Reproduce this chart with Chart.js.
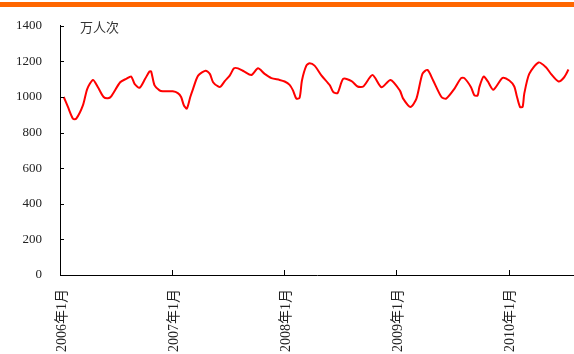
<!DOCTYPE html>
<html>
<head>
<meta charset="utf-8">
<script src="https://cdn.jsdelivr.net/npm/chart.js@4.4.1/dist/chart.umd.min.js"></script>
<style>
  html, body { margin: 0; padding: 0; background: #fff; }
  #wrap { position: relative; width: 574px; height: 354px; overflow: hidden; }
  #topbar { position: absolute; left: 0; top: 2px; width: 574px; height: 5px; background: #FF6600; }
  canvas { position: absolute; left: 0; top: 0; }
</style>
</head>
<body>
<div id="wrap">
  <canvas id="c" width="574" height="354"></canvas>
  <div id="topbar"></div>
</div>
<script>
// Time position of each reading, in months counted from January 2006
const months = [
  0.4, 0.85, 1.39, 1.74, 2.46, 2.92, 3.53, 4.06, 4.67, 5.13,
  5.48, 6.44, 7.08, 7.62, 7.98, 8.52, 9.11, 9.58, 9.75, 10.12,
  10.65, 11.0, 12.07, 12.61, 12.96, 13.25, 13.57, 13.94, 14.24, 14.78,
  15.57, 16.03, 16.38, 16.92, 17.2, 17.63, 18.16, 18.62, 19.05, 19.69,
  20.48, 21.19, 21.9, 22.62, 23.5, 24.04, 24.57, 24.93, 25.29, 25.64,
  25.89, 26.36, 26.71, 27.24, 27.99, 28.88, 29.24, 29.7, 30.31, 31.2,
  31.84, 32.45, 33.44, 34.4, 35.37, 36.36, 36.72, 37.5, 38.14, 38.78,
  39.32, 39.93, 40.82, 41.32, 42.2, 42.92, 43.27, 43.98, 44.34, 44.69,
  44.87, 45.33, 45.76, 46.37, 47.36, 48.08, 48.61, 48.86, 49.22, 49.5,
  49.68, 50.21, 51.21, 52.0, 52.53, 53.35, 53.95, 54.41
];

// Passenger volume (万人次)
const visitors = [
  1000, 944, 878, 878, 954, 1046, 1096, 1055, 1000, 993,
  1004, 1083, 1102, 1115, 1074, 1052, 1102, 1144, 1144, 1065,
  1037, 1032, 1032, 1022, 1000, 954, 935, 1000, 1046, 1120,
  1148, 1130, 1083, 1059, 1059, 1089, 1120, 1161, 1161, 1144,
  1124, 1161, 1130, 1106, 1096, 1087, 1068, 1037, 991, 996,
  1093, 1176, 1189, 1176, 1120, 1065, 1028, 1022, 1102, 1089,
  1059, 1059, 1124, 1055, 1096, 1037, 991, 944, 991, 1130,
  1152, 1093, 1000, 991, 1046, 1106, 1106, 1055, 1009, 1009,
  1055, 1115, 1089, 1041, 1107, 1093, 1059, 1009, 944, 944,
  1019, 1130, 1194, 1167, 1130, 1087, 1111, 1154
];

// Axis tick values and labels
const yearTickMonths = [0, 12, 24, 36, 48];
const yearTickLabels = ['2006年1月', '2007年1月', '2008年1月', '2009年1月', '2010年1月'];
const yTicks = [0, 200, 400, 600, 800, 1000, 1200, 1400];
const unitLabel = '万人次';

const serif = '"Liberation Serif", "Times New Roman", "Noto Sans CJK SC", serif';

// Short inward tick marks on both axes plus the unit caption
const axisMarks = {
  id: 'axisMarks',
  afterDraw(chart) {
    const { ctx, chartArea: a, scales: { x, y } } = chart;
    ctx.save();
    ctx.strokeStyle = '#000';
    ctx.lineWidth = 1;
    ctx.beginPath();
    y.ticks.forEach(t => {
      const py = Math.round(y.getPixelForValue(t.value)) + 0.5;
      ctx.moveTo(a.left, py);
      ctx.lineTo(a.left + 4, py);
    });
    x.ticks.forEach(t => {
      const px = Math.round(x.getPixelForValue(t.value)) + 0.5;
      ctx.moveTo(px, a.bottom);
      ctx.lineTo(px, a.bottom - 5);
    });
    ctx.stroke();
    ctx.fillStyle = '#333';
    ctx.font = '13px "Noto Sans CJK SC", sans-serif';
    ctx.textBaseline = 'middle';
    ctx.textAlign = 'left';
    ctx.fillText(unitLabel, a.left + 20, y.getPixelForValue(1400) + 1);
    ctx.restore();
  }
};

new Chart(document.getElementById('c'), {
  type: 'line',
  data: {
    datasets: [{
      data: months.map((m, i) => ({ x: m, y: visitors[i] })),
      borderColor: '#FF0000',
      borderWidth: 2,
      pointRadius: 0,
      fill: false,
      tension: 0.25
    }]
  },
  options: {
    responsive: false,
    animation: false,
    devicePixelRatio: 1,
    layout: { padding: { top: 23, right: 0, bottom: 0, left: 0 } },
    plugins: { legend: { display: false }, tooltip: { enabled: false } },
    scales: {
      x: {
        type: 'linear',
        min: 0,
        max: 55,
        afterBuildTicks: s => { s.ticks = yearTickMonths.map(v => ({ value: v })); },
        afterFit: s => { s.height = 79; },
        grid: { display: false, drawTicks: false },
        border: { display: true, color: '#000', width: 1 },
        ticks: {
          autoSkip: false,
          minRotation: 90,
          maxRotation: 90,
          padding: 14,
          labelOffset: 2,
          color: '#222',
          font: { family: serif, size: 14 },
          callback: v => yearTickLabels[yearTickMonths.indexOf(v)] ?? ''
        }
      },
      y: {
        min: 0,
        max: 1400,
        afterBuildTicks: s => { s.ticks = yTicks.map(v => ({ value: v })); },
        afterFit: s => { s.width = 60; },
        grid: { display: false, drawTicks: false },
        border: { display: true, color: '#000', width: 1 },
        ticks: {
          padding: 18,
          color: '#222',
          font: { family: serif, size: 13 },
          callback: v => String(v)
        }
      }
    }
  },
  plugins: [axisMarks]
});
</script>
</body>
</html>
